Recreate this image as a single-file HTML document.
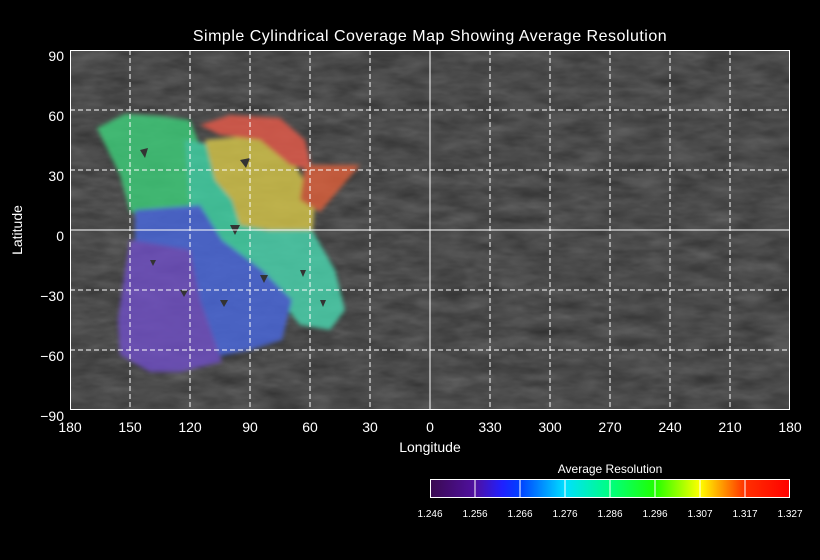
<!DOCTYPE html>
<html><head><meta charset="utf-8"><style>
html,body{margin:0;padding:0;background:#000;}
svg{display:block;}
text{font-family:"Liberation Sans",sans-serif;fill:#fff;}
</style></head><body>
<svg width="820" height="560" viewBox="0 0 820 560" xmlns="http://www.w3.org/2000/svg">
<defs>
<filter id="tex" x="0" y="0" width="100%" height="100%" color-interpolation-filters="sRGB">
<feTurbulence type="fractalNoise" baseFrequency="0.03 0.08" numOctaves="3" seed="4"/>
<feColorMatrix type="matrix" values="0.33 0.33 0.33 0 0  0.33 0.33 0.33 0 0  0.33 0.33 0.33 0 0  0 0 0 0 1"/>
<feComponentTransfer><feFuncR type="linear" slope="0.5" intercept="0.05"/><feFuncG type="linear" slope="0.5" intercept="0.05"/><feFuncB type="linear" slope="0.5" intercept="0.05"/></feComponentTransfer>
</filter>
<filter id="bl"><feGaussianBlur stdDeviation="2"/></filter>
<linearGradient id="cb" x1="0" x2="1" y1="0" y2="0">
<stop offset="0" stop-color="#3a0a50"/><stop offset="0.125" stop-color="#5010a0"/>
<stop offset="0.2" stop-color="#2020ff"/><stop offset="0.25" stop-color="#0040ff"/>
<stop offset="0.375" stop-color="#00e0ff"/><stop offset="0.5" stop-color="#00ff80"/>
<stop offset="0.625" stop-color="#20ff00"/><stop offset="0.75" stop-color="#ffff00"/>
<stop offset="0.875" stop-color="#ff3000"/><stop offset="1" stop-color="#ff0000"/>
</linearGradient>
</defs>
<text x="430" y="41" font-size="16" text-anchor="middle" letter-spacing="0.5">Simple Cylindrical Coverage Map Showing Average Resolution</text>
<rect x="70" y="50" width="720" height="360" fill="#4a4a4a"/>
<rect x="70" y="50" width="720" height="360" filter="url(#tex)" opacity="0.6"/>
<g filter="url(#bl)" opacity="0.8">
<polygon fill="#3ed07a" points="97,128 125,114 160,116 190,120 205,160 195,212 140,215 130,212 120,175"/>
<polygon fill="#40d8a8" points="185,140 240,150 260,200 270,260 240,270 200,250 190,210"/>
<polygon fill="#d8c848" points="205,140 260,135 295,165 315,200 312,240 280,232 240,225 232,200 215,180"/>
<polygon fill="#e85a4a" points="200,125 230,115 280,118 305,140 312,170 290,165 260,140 220,135"/>
<polygon fill="#e0603a" points="305,165 360,165 320,212 300,200"/>
<polygon fill="#48d8b0" points="250,230 312,230 335,270 345,310 330,330 300,325 280,300 250,270"/>
<polygon fill="#4868e0" points="135,210 200,205 222,240 262,270 292,300 282,340 250,350 220,356 170,350 140,330 135,260"/>
<polygon fill="#7050c8" points="130,240 190,250 200,300 222,362 180,372 150,372 120,355 118,320 125,270"/>
</g>
<g fill="#333">
<polygon points="140,150 148,148 145,158"/><polygon points="240,160 250,158 246,168"/><polygon points="230,225 240,225 235,235"/>
<polygon points="260,275 268,275 264,283"/><polygon points="300,270 306,270 303,277"/><polygon points="220,300 228,300 224,307"/>
<polygon points="320,300 326,300 323,307"/><polygon points="180,290 188,290 184,297"/><polygon points="150,260 156,260 153,266"/>
</g>
<g stroke="#fff" stroke-width="1" fill="none">
<g stroke-dasharray="5,3">
<line x1="130" y1="50" x2="130" y2="410"/><line x1="190" y1="50" x2="190" y2="410"/><line x1="250" y1="50" x2="250" y2="410"/>
<line x1="310" y1="50" x2="310" y2="410"/><line x1="370" y1="50" x2="370" y2="410"/><line x1="490" y1="50" x2="490" y2="410"/>
<line x1="550" y1="50" x2="550" y2="410"/><line x1="610" y1="50" x2="610" y2="410"/><line x1="670" y1="50" x2="670" y2="410"/>
<line x1="730" y1="50" x2="730" y2="410"/>
<line x1="70" y1="110" x2="790" y2="110"/><line x1="70" y1="170" x2="790" y2="170"/><line x1="70" y1="290" x2="790" y2="290"/>
<line x1="70" y1="350" x2="790" y2="350"/>
</g>
<line x1="430" y1="50" x2="430" y2="410"/><line x1="70" y1="230" x2="790" y2="230"/>
<rect x="70.5" y="50.5" width="719" height="359"/>
</g>
<g font-size="14" text-anchor="end">
<text x="64" y="61">90</text><text x="64" y="121">60</text><text x="64" y="181">30</text><text x="64" y="241">0</text>
<text x="64" y="301">−30</text><text x="64" y="361">−60</text><text x="64" y="421">−90</text>
</g>
<g font-size="14" text-anchor="middle">
<text x="70" y="432">180</text><text x="130" y="432">150</text><text x="190" y="432">120</text><text x="250" y="432">90</text>
<text x="310" y="432">60</text><text x="370" y="432">30</text><text x="430" y="432">0</text><text x="490" y="432">330</text>
<text x="550" y="432">300</text><text x="610" y="432">270</text><text x="670" y="432">240</text><text x="730" y="432">210</text>
<text x="790" y="432">180</text>
<text x="430" y="452">Longitude</text>
</g>
<text x="22" y="230" font-size="14" text-anchor="middle" transform="rotate(-90 22 230)">Latitude</text>
<text x="610" y="473" font-size="12" text-anchor="middle">Average Resolution</text>
<rect x="430" y="479" width="360" height="19" fill="url(#cb)"/>
<g stroke="#fff" stroke-width="1" fill="none">
<rect x="430.5" y="479.5" width="359" height="18"/>
<line x1="475" y1="479" x2="475" y2="498"/><line x1="520" y1="479" x2="520" y2="498"/><line x1="565" y1="479" x2="565" y2="498"/>
<line x1="610" y1="479" x2="610" y2="498"/><line x1="655" y1="479" x2="655" y2="498"/><line x1="700" y1="479" x2="700" y2="498"/>
<line x1="745" y1="479" x2="745" y2="498"/>
</g>
<g font-size="10" text-anchor="middle">
<text x="430" y="517">1.246</text><text x="475" y="517">1.256</text><text x="520" y="517">1.266</text><text x="565" y="517">1.276</text>
<text x="610" y="517">1.286</text><text x="655" y="517">1.296</text><text x="700" y="517">1.307</text><text x="745" y="517">1.317</text>
<text x="790" y="517">1.327</text>
</g>
</svg>
</body></html>
